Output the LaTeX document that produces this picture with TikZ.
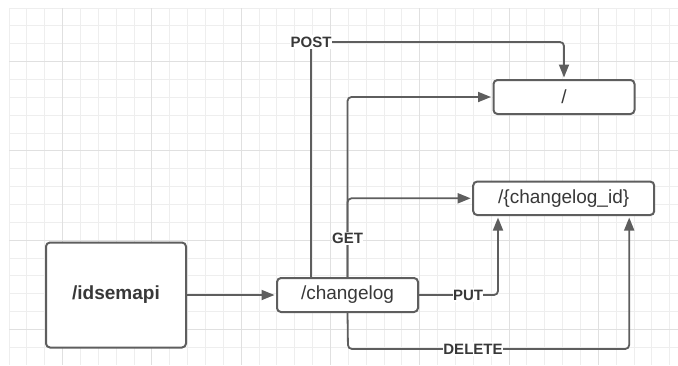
\documentclass[tikz,border=0pt]{standalone}
\usepackage{fontspec}
\setmainfont{Liberation Sans}
\usetikzlibrary{arrows.meta}
\definecolor{edge}{HTML}{5E5E5E}
\definecolor{ink}{HTML}{383838}
\definecolor{gridminor}{HTML}{EEEEEE}
\definecolor{gridmajor}{HTML}{E0E0E0}
\tikzset{
  res/.style={draw=edge, line width=2pt, rounded corners=4pt, fill=white,
              text=ink, font=\fontsize{19}{19}\selectfont, inner sep=0pt},
  conn/.style={draw=edge, line width=1.8pt, rounded corners=4pt,
               -{Triangle[length=13pt,width=10pt]}, shorten >=1.5pt},
  verb/.style={fill=white, text=ink, inner xsep=0.3pt, inner ysep=1.5pt,
               font=\bfseries\fontsize{15}{15}\selectfont},
}
\begin{document}
\begin{tikzpicture}[x=1pt,y=-1pt]
\useasboundingbox (0,0) rectangle (678,365);
\fill[white] (0,0) rectangle (678,365);
% background grid
\foreach \i in {0,...,37}{
  \pgfmathsetmacro\gx{9+17.86*\i}
  \draw[gridminor, line width=1pt] (\gx,8) -- (\gx,365);
}
\foreach \j in {0,...,19}{
  \pgfmathsetmacro\gy{8+17.86*\j}
  \draw[gridminor, line width=1pt] (9,\gy) -- (678,\gy);
}
\foreach \i in {3,8,...,33}{
  \pgfmathsetmacro\gx{9+17.86*\i}
  \draw[gridmajor, line width=1pt] (\gx,8) -- (\gx,365);
}
\foreach \j in {3,8,...,18}{
  \pgfmathsetmacro\gy{8+17.86*\j}
  \draw[gridmajor, line width=1pt] (9,\gy) -- (678,\gy);
}

% resources
\node[res, minimum width=140pt, minimum height=105pt,
      font=\bfseries\fontsize{19}{19}\selectfont] (api) at (116,295) {/idsemapi};
\node[res, minimum width=141pt, minimum height=34pt] (cl) at (347.5,295) {/changelog};
\node[res, minimum width=141pt, minimum height=34pt] (root) at (564,97) {/};
\node[res, minimum width=181pt, minimum height=33.5pt] (item) at (563.7,198.3) {/\{changelog\_id\}};

% routing points
\coordinate (postc) at (311,42);
\coordinate (delc) at (348,349);
\coordinate (putc) at (498,295);

% connectors
\draw[conn] (api) -- (cl);
\draw[conn] (cl.north -| postc) -- (postc) -- (postc -| root.north) -- (root.north);
\draw[conn] (cl.north) |- (root.west);
\draw[conn] (cl.north) |- (item.west);
\draw[conn] (cl.east) -- (putc) -- (putc |- item.south);
\draw[conn] (cl.south) -- (delc) -| ([xshift=65.5pt]item.south);

% method labels
\node[verb] (post) at (postc) {POST};
\node[verb] (get) at (347.5,238.5) {GET};
\node[verb] (put) at (468,295) {PUT};
\node[verb] (del) at (473,349) {DELETE};
\end{tikzpicture}
\end{document}
